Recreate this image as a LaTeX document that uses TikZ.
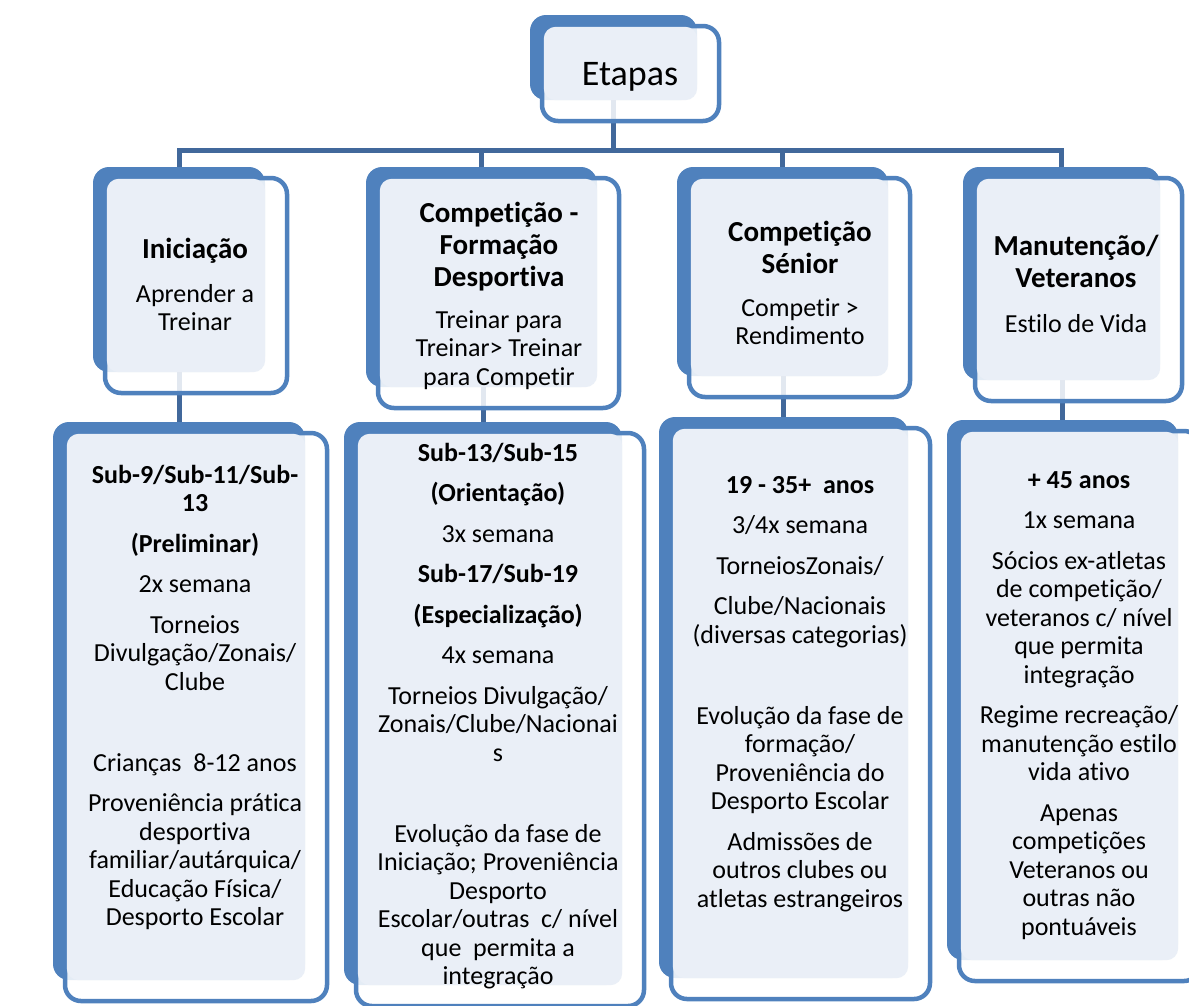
\documentclass[tikz,border=0pt]{standalone}
\usepackage{fontspec}
\setmainfont{Carlito}[Ligatures={NoCommon}]
\usetikzlibrary{backgrounds}

\definecolor{stageblue}{RGB}{79,129,189}
\definecolor{linkblue}{RGB}{65,104,155}
\definecolor{paleblue}{RGB}{234,239,247}

\tikzset{
  backbox/.style={rectangle, rounded corners=16pt, fill=stageblue, inner sep=0pt},
  framebox/.style={rectangle, rounded corners=16pt, draw=stageblue, line width=4.5pt,
    fill=white, fill opacity=0.85, inner sep=0pt},
  textfill/.style={fill=paleblue, rounded corners=12pt},
  link/.style={draw=linkblue, line width=5pt},
  headtext/.style={font=\fontsize{29}{32}\selectfont\bfseries, align=center, anchor=north, inner sep=0pt},
  bodytext/.style={font=\fontsize{26}{28.5}\selectfont, align=center, anchor=north, inner sep=0pt},
}

% back block, frame and pale text area of one box
\newcommand{\stagebox}[5]{%
  \node[backbox, minimum width={#4-#2}, minimum height={#5-#3}] (#1B) at ({(#2+#4)/2},{(#3+#5)/2}) {};
  \node[framebox, minimum width={#4-#2+10}, minimum height={#5-#3+10}] (#1F) at ({(#2+#4)/2+17},{(#3+#5)/2+16}) {};
  \fill[textfill] ([xshift=4pt,yshift=-3pt]#1F.north west) rectangle (#1B.south east);
}
\newcommand{\boxtop}[1][20]{\rule{0pt}{#1pt}}

\begin{document}
\begin{tikzpicture}[x=1pt, y=-1pt]
\useasboundingbox (0,0) rectangle (1189,1005);

% top
\stagebox{et}{530}{15}{697}{100}
\node[font=\fontsize{36}{40}\selectfont, anchor=base, inner sep=0pt] (etT) at (630,85) {Etapas};

% stages
\stagebox{ini}{93}{167}{265}{372}
\stagebox{form}{366}{167}{597}{387}
\stagebox{sen}{677}{167}{888}{376}
\stagebox{man}{963}{167}{1160}{380}

\node[headtext] (iniH) at (195,234) {\boxtop[24]Iniciação};
\node[bodytext] (iniS) at (195,282) {\boxtop Aprender a\\Treinar};
\node[headtext] (formH) at (499,198) {\boxtop[24]Competição -\\Formação\\Desportiva};
\node[bodytext] (formS) at (499,308) {\boxtop Treinar para\\Treinar> Treinar\\para Competir};
\node[headtext] (senH) at (800,217) {\boxtop[24]Competição\\Sénior};
\node[bodytext] (senS) at (800,296) {\boxtop Competir >\\Rendimento};
\node[headtext] (manH) at (1076,231) {\boxtop[24]Manutenção/\\Veteranos};
\node[bodytext] (manS) at (1076,312) {\boxtop Estilo de Vida};

% details
\stagebox{sub1}{53}{422}{305}{980}
\stagebox{sub2}{344}{422}{622}{985}
\stagebox{sub3}{659}{417}{908}{978}
\stagebox{sub4}{947}{420}{1178}{960}

\node[bodytext] (sub1T) at (195,463) {\boxtop\textbf{Sub-9/Sub-11/Sub-}\\\textbf{13}\\[12pt]
  \textbf{(Preliminar)}\\[12pt]2x semana\\[12pt]Torneios\\Divulgação/Zonais/\\Clube\\[52.5pt]
  Crianças\ \ 8-12 anos\\[12pt]Proveniência prática\\desportiva\\familiar/autárquica/\\
  Educação Física/\\Desporto Escolar};
\node[bodytext] (sub2T) at (498,441) {\boxtop\textbf{Sub-13/Sub-15}\\[12pt]\textbf{(Orientação)}\\[12pt]
  3x semana\\[12pt]\textbf{Sub-17/Sub-19}\\[12pt]\textbf{(Especialização)}\\[12pt]4x semana\\[12pt]
  Torneios Divulgação/\\Zonais/Clube/Nacionai\\s\\[52.5pt]Evolução da fase de\\
  Iniciação; Proveniência\\Desporto\\Escolar/outras\ \ c/ nível\\que\ \ permita a\\integração};
\node[bodytext] (sub3T) at (800,473) {\boxtop\textbf{19 - 35+\ \ anos}\\[12pt]3/4x semana\\[12pt]
  TorneiosZonais/\\[12pt]Clube/Nacionais\\(diversas categorias)\\[52.5pt]Evolução da fase de\\
  formação/\\Proveniência do\\Desporto Escolar\\[12pt]Admissões de\\outros clubes ou\\
  atletas estrangeiros};
\node[bodytext] (sub4T) at (1079,468) {\boxtop\textbf{+ 45 anos}\\[12pt]1x semana\\[12pt]
  Sócios ex-atletas\\de competição/\\veteranos c/ nível\\que permita\\integração\\[12pt]
  Regime recreação/\\manutenção estilo\\vida ativo\\[12pt]Apenas\\competições\\
  Veteranos ou\\outras não\\pontuáveis};

% connectors
\begin{scope}[on background layer]
  \coordinate (bus) at (0,150);
  \draw[link] (etB.south) -- (etB.south |- bus);
  \draw[link] (iniB.north) -- (iniB.north |- bus) -- (manB.north |- bus) -- (manB.north);
  \draw[link] (formB.north) -- (formB.north |- bus);
  \draw[link] (senB.north) -- (senB.north |- bus);
  \draw[link] (sub1B.north |- iniB.south) -- (sub1B.north);
  \draw[link] (sub2B.north |- formB.south) -- (sub2B.north);
  \draw[link] (sub3B.north |- senB.south) -- (sub3B.north);
  \draw[link] (sub4B.north |- manB.south) -- (sub4B.north);
\end{scope}
\end{tikzpicture}
\end{document}
